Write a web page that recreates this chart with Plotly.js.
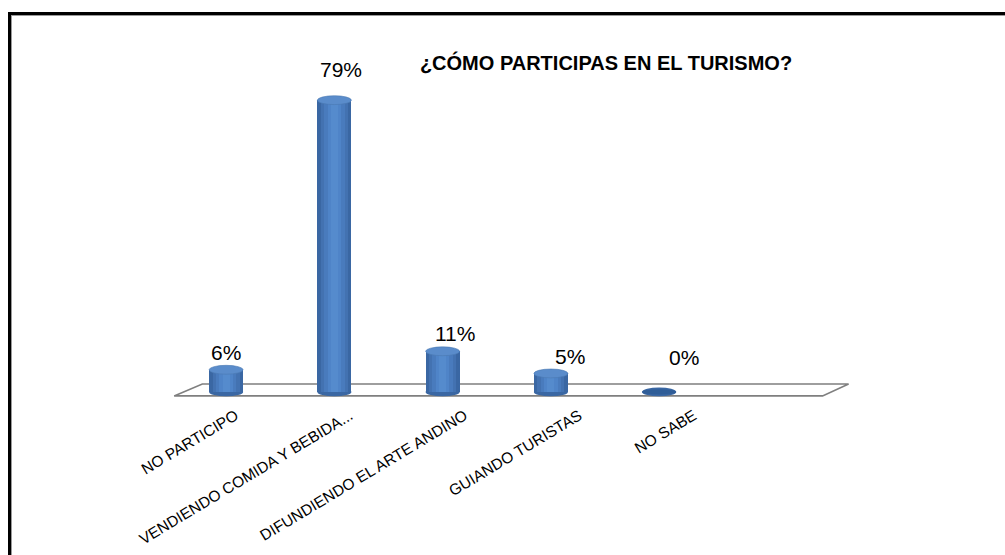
<!DOCTYPE html>
<html>
<head>
<meta charset="utf-8">
<script src="https://cdn.plot.ly/plotly-3.0.1.min.js"></script>
<style>
  html, body { margin: 0; padding: 0; background: #fff; }
  #chart { position: absolute; left: 0; top: 0; width: 1005px; height: 555px; }
  #frame { position: absolute; left: 8px; top: 12px; width: 1100px; height: 700px;
           border-left: 3px solid #000; border-top: 3px solid #000;
           box-shadow: inset 1px 1px 0 #9a9a9a; pointer-events: none; }
</style>
</head>
<body>
<div id="chart"></div>
<div id="frame"></div>
<script>
// ---- data ----
const chartTitle = '¿CÓMO PARTICIPAS EN EL TURISMO?';
const categories = ['NO PARTICIPO', 'VENDIENDO COMIDA Y BEBIDA...', 'DIFUNDIENDO EL ARTE ANDINO', 'GUIANDO TURISTAS', 'NO SABE'];
const percentValues = [6, 79, 11, 5, 0];
const percentLabels = ['6%', '79%', '11%', '5%', '0%'];

// ---- styling ----
const idx = categories.map((_, i) => i);
const n = categories.length;
const barW = 0.314;
const capR = 1.2;            // vertical half-height of the cylinder ellipses (y units)
const unitPx = 108.25;       // pixels per category step
const persp = 6.3;           // perspective drift of the labels, px per category

// cylinder shading: overlaid bars of decreasing width, lighter toward the middle
const shades = [
  { w: barW,        c: '#3a67a3' },
  { w: barW * 0.80, c: '#4372b1' },
  { w: barW * 0.60, c: '#497bbd' },
  { w: barW * 0.40, c: '#4f84c8' },
  { w: barW * 0.20, c: '#558bcd' }
];
const traces = shades.map(s => ({
  type: 'bar',
  x: idx,
  y: percentValues,
  width: s.w,
  marker: { color: s.c, line: { width: 0 } },
  hoverinfo: 'skip',
  showlegend: false
}));

const shapes = [];
// floor of the 3-D plot
shapes.push({
  type: 'path', xref: 'x', yref: 'y', layer: 'below',
  path: `M -0.22 2.16 L ${n + 0.75} 2.16 L ${n + 0.51} -1.08 L -0.48 -1.08 Z`,
  line: { color: '#7f7f7f', width: 1.6 },
  fillcolor: '#ffffff'
});
// bottom and top ellipses of each cylinder
percentValues.forEach((v, i) => {
  shapes.push({
    type: 'circle', xref: 'x', yref: 'y', layer: 'below',
    x0: i - barW / 2, x1: i + barW / 2, y0: -capR, y1: capR,
    fillcolor: '#3a67a3', line: { width: 0 }
  });
  shapes.push({
    type: 'circle', xref: 'x', yref: 'y', layer: 'above',
    x0: i - barW / 2, x1: i + barW / 2,
    y0: v - (v > 0 ? capR : capR * 0.5), y1: v + (v > 0 ? capR : capR * 0.5),
    fillcolor: v > 0 ? '#5a8ccb' : '#2f5d97',
    line: { color: v > 0 ? '#4a78b2' : '#2f5d97', width: 0.6 }
  });
});

const annotations = percentValues.map((v, i) => ({
  x: i, y: Math.max(v * 1.05 + 2, 7), xref: 'x', yref: 'y',
  text: percentLabels[i], showarrow: false,
  xanchor: 'center', yanchor: 'bottom', xshift: persp * i, yshift: -5,
  font: { family: 'Liberation Sans, Arial, sans-serif', size: 21, color: '#000' }
}));

const layout = {
  width: 1005, height: 555,
  paper_bgcolor: '#ffffff', plot_bgcolor: 'rgba(0,0,0,0)',
  margin: { l: 171.9, r: 1005 - 853.9, t: 77.5, b: 151.9, pad: 0 },
  title: {
    text: '<b>' + chartTitle + '</b>',
    x: 0.603, y: 0.8865, xanchor: 'center', yanchor: 'middle',
    font: { family: 'Liberation Sans, Arial, sans-serif', size: 20, color: '#000' }
  },
  barmode: 'overlay',
  bargap: 0,
  xaxis: {
    type: 'linear', range: [-0.5, 5.8],
    tickmode: 'array',
    tickvals: idx.map(i => i + (persp * i - 2 * persp) / unitPx),
    ticktext: categories,
    tickangle: -31, ticks: '', showgrid: false, zeroline: false, showline: false,
    ticklabelshift: 22, ticklabelstandoff: 0,
    tickfont: { family: 'Liberation Sans, Arial, sans-serif', size: 15.5, color: '#000' },
    fixedrange: true
  },
  yaxis: {
    range: [-3, 85], visible: false, showgrid: false, zeroline: false, fixedrange: true
  },
  shapes: shapes,
  annotations: annotations,
  showlegend: false
};

Plotly.newPlot('chart', traces, layout, { staticPlot: true, displayModeBar: false });
</script>
</body>
</html>
